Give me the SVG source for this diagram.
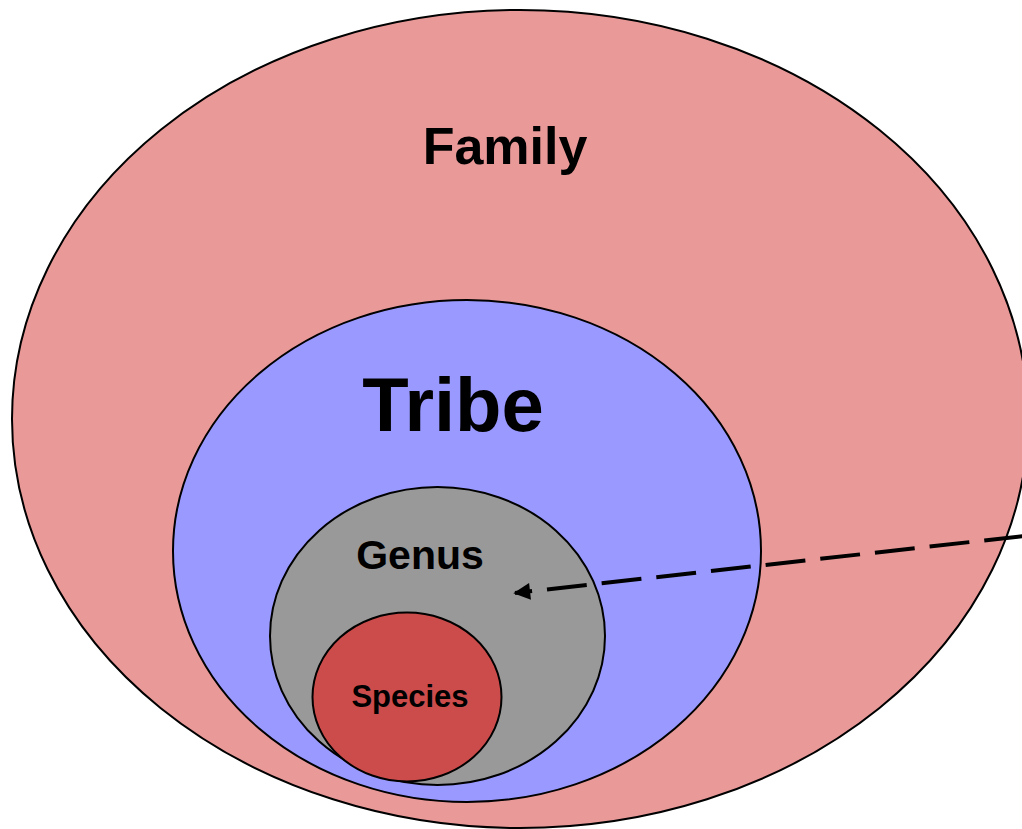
<svg xmlns="http://www.w3.org/2000/svg" width="1022" height="829" viewBox="0 0 1022 829">
<defs>
<style>
.sh{stroke:#000;stroke-width:2}
.lb{font-family:"Liberation Sans",Arial,sans-serif;font-weight:bold;fill:#000;text-anchor:middle}
</style>
<marker id="ah" viewBox="0 0 10 10" refX="9" refY="5" markerWidth="4.4" markerHeight="4.2" orient="auto" markerUnits="strokeWidth">
<path d="M0,0 L10,5 L0,10 z" fill="#000"/>
</marker>
</defs>
<rect width="1022" height="829" fill="#fff"/>
<g id="family">
<ellipse class="sh" cx="520" cy="419" rx="508" ry="409" fill="#EA9999"/>
<text class="lb" x="505" y="164" font-size="52">Family</text>
</g>
<g id="tribe">
<ellipse class="sh" cx="467" cy="551" rx="294" ry="251" fill="#9999FF"/>
<text class="lb" x="453" y="431" font-size="76">Tribe</text>
</g>
<g id="genus">
<ellipse class="sh" cx="437.5" cy="636" rx="167.5" ry="149" fill="#999999"/>
<text class="lb" x="420" y="569" font-size="41">Genus</text>
</g>
<g id="species">
<ellipse class="sh" cx="407" cy="697" rx="94.5" ry="84.5" fill="#CC4C4C"/>
<text class="lb" x="410" y="707" font-size="31">Species</text>
</g>
<g id="connectors">
<line x1="1024" y1="536" x2="515" y2="593" stroke="#000" stroke-width="4" stroke-dasharray="40,15" marker-end="url(#ah)"/>
</g>
</svg>
